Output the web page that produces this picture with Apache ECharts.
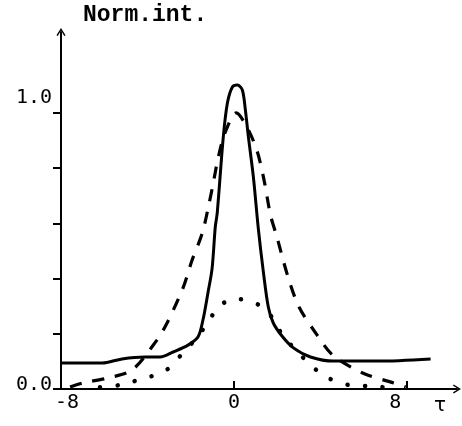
<!DOCTYPE html>
<html>
<head>
<meta charset="utf-8">
<script src="https://cdn.jsdelivr.net/npm/echarts@6/dist/echarts.min.js"></script>
<style>
  html, body { margin: 0; padding: 0; background: #fff; }
  #chart { width: 462px; height: 426px; }
</style>
</head>
<body>
<div id="chart"></div>
<script>
// Normalised intensity profiles versus delay τ
const tauSolid = [-8.0, -6.1, -5.18, -4.11, -3.42, -2.82, -2.13, -1.67, -1.44, -1.21, -1.02, -0.87, -0.78, -0.50, -0.31, -0.08, 0.15, 0.38, 0.52, 0.66, 0.89, 1.12, 1.35, 1.58, 1.81, 2.23, 2.74, 3.53, 4.59, 6.63, 9.08];
const valSolid = [0.094, 0.094, 0.109, 0.116, 0.116, 0.134, 0.159, 0.188, 0.25, 0.348, 0.435, 0.587, 0.638, 0.913, 1.036, 1.094, 1.101, 1.083, 1.011, 0.913, 0.768, 0.58, 0.425, 0.297, 0.239, 0.19, 0.149, 0.116, 0.101, 0.101, 0.109];

const tauDashed = [-7.58, -6.98, -5.82, -4.71, -3.56, -3.10, -2.36, -1.94, -1.47, -1.15, -0.92, -0.73, -0.41, 0.10, 0.61, 1.07, 1.40, 1.68, 1.98, 2.49, 3.00, 3.83, 4.55, 5.94, 7.37, 7.93];
const valDashed = [0.007, 0.022, 0.04, 0.069, 0.178, 0.239, 0.366, 0.467, 0.565, 0.674, 0.764, 0.84, 0.93, 1.00, 0.946, 0.86, 0.75, 0.63, 0.55, 0.406, 0.297, 0.196, 0.123, 0.058, 0.022, 0.007];

const tauDotted = [-6.2, -5.31, -4.57, -3.79, -3.0, -2.40, -1.70, -1.17, -0.65, 0.19, 1.06, 1.75, 2.23, 3.44, 4.27, 5.33, 6.44, 7.6];
const valDotted = [0.006, 0.014, 0.029, 0.047, 0.076, 0.128, 0.188, 0.246, 0.304, 0.326, 0.308, 0.26, 0.196, 0.094, 0.043, 0.014, 0.01, 0.0];

const xTickValues = [0, 8];
const xLabelValues = [-8, 0, 8];
const xLabelText = ['-8', '0', '8'];
const yTickValues = [0, 0.2, 0.4, 0.6, 0.8, 1.0];
const yLabelValues = [0, 1.0];
const yLabelText = ['0.0', '1.0'];

const pairs = (xs, ys) => xs.map((x, i) => [x, ys[i]]);

// open chevron used as the axis arrow head
const arrowHead = 'path://M5,0 L10,8 L8.6,8.8 L5,2.8 L1.4,8.8 L0,8 Z';

const labelFont = { fontFamily: 'DejaVu Sans Mono', fontSize: 20, color: '#000' };

const chart = echarts.init(document.getElementById('chart'), null, { renderer: 'canvas' });

chart.setOption({
  animation: false,
  backgroundColor: '#fff',
  grid: { left: 61, right: 5, top: 32, bottom: 37 },
  xAxis: {
    type: 'value',
    min: -8,
    max: 10.3,
    name: 'τ',
    nameLocation: 'end',
    nameGap: -17,
    nameTextStyle: { fontFamily: 'DejaVu Sans', fontSize: 20, color: '#000', align: 'center', verticalAlign: 'top', padding: [7, 0, 0, 0] },
    axisLine: { onZero: false, lineStyle: { color: '#000', width: 2 }, symbol: ['none', arrowHead], symbolSize: [10, 8] },
    axisTick: { customValues: xTickValues, inside: true, length: 8, lineStyle: { color: '#000', width: 2 } },
    axisLabel: {
      customValues: xLabelValues,
      margin: 4,
      ...labelFont,
      formatter: v => {
        const t = xLabelText[xLabelValues.indexOf(v)];
        if (v < 0) return '{l|' + t + '}';
        if (v > 0) return '{r|' + t + '}';
        return '{c|' + t + '}';
      },
      rich: {
        l: { ...labelFont, padding: [0, 0, 0, 12] },
        c: { ...labelFont },
        r: { ...labelFont, padding: [0, 24, 0, 0] }
      }
    },
    splitLine: { show: false }
  },
  yAxis: {
    type: 'value',
    min: 0,
    max: 1.293,
    name: 'Norm.int.',
    nameLocation: 'end',
    nameGap: 17,
    nameTextStyle: { fontFamily: 'Liberation Mono', fontWeight: 'bold', fontSize: 23, color: '#000', align: 'left', verticalAlign: 'middle', padding: [0, 0, 0, 22] },
    axisLine: { onZero: false, lineStyle: { color: '#000', width: 2 }, symbol: ['none', arrowHead], symbolSize: [10, 8] },
    axisTick: { customValues: yTickValues, inside: false, length: 8, lineStyle: { color: '#000', width: 2 } },
    axisLabel: {
      customValues: yLabelValues,
      margin: 9,
      ...labelFont,
      formatter: v => {
        const t = yLabelText[yLabelValues.indexOf(v)];
        return (v === 0 ? '{z|' : '{o|') + t + '}';
      },
      rich: {
        z: { ...labelFont, padding: [0, 0, 8, 0] },
        o: { ...labelFont, padding: [0, 0, 30, 0] }
      }
    },
    splitLine: { show: false }
  },
  series: [
    {
      name: 'solid',
      type: 'line',
      data: pairs(tauSolid, valSolid),
      showSymbol: false,
      smooth: 0.3,
      lineStyle: { color: '#000', width: 3 }
    },
    {
      name: 'dashed',
      type: 'line',
      data: pairs(tauDashed, valDashed),
      showSymbol: false,
      smooth: 0.3,
      lineStyle: { color: '#000', width: 3.2, type: [12, 11] }
    },
    {
      name: 'dotted',
      type: 'line',
      data: pairs(tauDotted, valDotted),
      showSymbol: false,
      smooth: 0.3,
      lineStyle: { color: '#000', width: 4.5, type: [0.1, 17.5], cap: 'round' }
    }
  ]
});
</script>
</body>
</html>
